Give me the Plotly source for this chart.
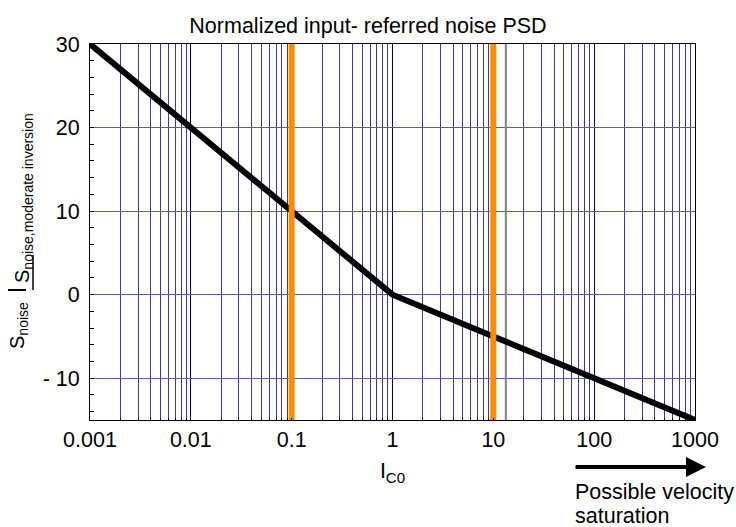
import plotly.graph_objects as go

# ---- data ----
ic0 = [0.001, 0.1, 0.2, 0.3, 1, 10, 1000]
noise_db = [30, 10, 6.9, 5.2, 0, -5, -15]
orange_x = [0.1, 10]
gray_x = [13.3]
y_range = [-15, 30]
x_tickvals = [0.001, 0.01, 0.1, 1, 10, 100, 1000]
x_ticktext = ["0.001", "0.01", "0.1", "1", "10", "100", "1000"]
y_tickvals = [-10, 0, 10, 20, 30]
y_ticktext = ["- 10", "0", "10", "20", "30"]

FONT = "Liberation Sans, Arial, sans-serif"
FS = 21.5
L, R, T, B = 90, 41, 44, 107
W, H = 736, 527
PW, PH = W - L - R, H - T - B


def px(xp):
    return (xp - L) / PW


def py(yp):
    return (H - B - yp) / PH


fig = go.Figure()

for gx in gray_x:
    fig.add_trace(go.Scatter(x=[gx, gx], y=y_range, mode="lines",
                             line=dict(color="#808080", width=2),
                             showlegend=False, hoverinfo="skip"))

fig.add_trace(go.Scatter(x=ic0, y=noise_db, mode="lines",
                         line=dict(color="black", width=6),
                         showlegend=False))

for ox in orange_x:
    fig.add_trace(go.Scatter(x=[ox, ox], y=y_range, mode="lines",
                             line=dict(color="#FF8C00", width=6),
                             showlegend=False, hoverinfo="skip"))

fig.update_layout(
    width=W, height=H,
    margin=dict(l=L, r=R, t=T, b=B, autoexpand=False),
    paper_bgcolor="white", plot_bgcolor="white",
    font=dict(family=FONT, size=FS, color="black"),
    title=dict(text="Normalized input- referred noise PSD",
               x=px((L + W - R) / 2), xanchor="center",
               y=1 - 25 / H, yanchor="middle",
               font=dict(family=FONT, size=FS, color="black")),
    xaxis=dict(type="log", range=[-3, 3], automargin=False,
               tickvals=x_tickvals, ticktext=x_ticktext,
               showgrid=True, gridcolor="#000080", gridwidth=1,
               minor=dict(dtick="D1", showgrid=True, gridcolor="#3a3a9c",
                          gridwidth=1, ticks="inside", ticklen=2,
                          tickcolor="black"),
               ticks="inside", ticklen=2, tickcolor="black",
               showline=True, linecolor="black", linewidth=1, mirror=True,
               zeroline=False,
               tickfont=dict(family=FONT, size=FS, color="black"),
               title=dict(text="I<sub>C0</sub>", standoff=12,
                          font=dict(family=FONT, size=FS, color="black"))),
    yaxis=dict(range=y_range, tickvals=y_tickvals, ticktext=y_ticktext,
               automargin=False, ticklabelstandoff=5,
               showgrid=True, gridcolor="#5a5aae", gridwidth=1,
               minor=dict(dtick=2, ticks="inside", ticklen=4,
                          tickcolor="black", showgrid=False),
               ticks="inside", ticklen=4, tickcolor="black",
               showline=True, linecolor="black", linewidth=1, mirror=True,
               zeroline=False,
               tickfont=dict(family=FONT, size=FS, color="black")),
)

annotations = [
    dict(text="S<sub>noise</sub>", textangle=-90, showarrow=False,
         xref="paper", yref="paper", x=px(18), y=py(326),
         xanchor="center", yanchor="middle",
         font=dict(family=FONT, size=20, color="black")),
    dict(text="S<sub>noise,moderate inversion</sub>", textangle=-90, showarrow=False,
         xref="paper", yref="paper", x=px(24), y=py(198),
         xanchor="center", yanchor="middle",
         font=dict(family=FONT, size=20, color="black")),
    dict(text="Possible velocity", showarrow=False, align="left",
         xref="paper", yref="paper", x=px(573), y=py(492),
         xanchor="left", yanchor="middle",
         font=dict(family=FONT, size=FS, color="black")),
    dict(text="saturation", showarrow=False, align="left",
         xref="paper", yref="paper", x=px(573), y=py(516),
         xanchor="left", yanchor="middle",
         font=dict(family=FONT, size=FS, color="black")),
    dict(text="", showarrow=True, arrowhead=2, arrowsize=1, arrowwidth=4,
         arrowcolor="black",
         xref="paper", yref="paper", x=px(706), y=py(467),
         axref="pixel", ayref="pixel", ax=-132, ay=0),
]
fig.update_layout(annotations=annotations)

fig.add_shape(type="line", xref="paper", yref="paper",
              x0=px(8), x1=px(26), y0=py(290), y1=py(290),
              line=dict(color="black", width=2))
fig.add_shape(type="line", xref="paper", yref="paper",
              x0=px(33), x1=px(33), y0=py(290), y1=py(255),
              line=dict(color="black", width=1.5))

fig.write_html("out.html", config={"displayModeBar": False},
               post_script="document.body.style.margin='0';document.body.style.padding='0';")
